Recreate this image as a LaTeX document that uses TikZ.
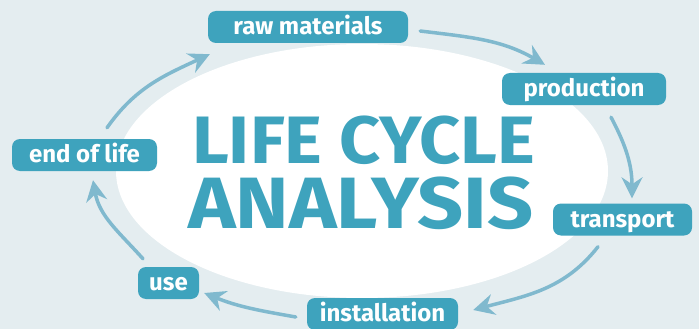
\documentclass[tikz,border=0pt]{standalone}
\usepackage{fontspec}
\setmainfont{Fira Sans}
\usetikzlibrary{arrows.meta}
\definecolor{bgc}{RGB}{228,237,240}
\definecolor{teal}{RGB}{62,163,189}
\definecolor{arrowc}{RGB}{128,185,206}
\tikzset{
  stagebox/.style={fill=teal, text=white, rounded corners=8pt, inner sep=0pt,
    minimum height=32pt, text height=15.4pt, text depth=0pt,
    font=\fontsize{24}{24}\selectfont\bfseries},
  cyclearrow/.style={draw=arrowc, line width=3.5pt, line cap=round,
    -{Stealth[length=21pt,width=21pt,inset=7pt]}},
  titletext/.style={text=teal, inner sep=0pt, anchor=base west}
}
\begin{document}
\begin{tikzpicture}[x=1pt,y=1pt]
\useasboundingbox (0,0) rectangle (699,-329);
\fill[bgc] (0,0) rectangle (699,-329);
\fill[white] (362,-171) ellipse [x radius=246, y radius=127];

\node[titletext] (t1) at (192,-163.3) {\resizebox{343pt}{47.6pt}{\fontsize{50}{50}\selectfont\bfseries LIFE CYCLE}};
\node[titletext] (t2) at (188,-228.3) {\resizebox{345pt}{51.6pt}{\fontsize{50}{50}\selectfont\bfseries ANALYSIS}};

\node[stagebox, minimum width=200pt] (raw) at (308,-27) {raw materials};
\node[stagebox, minimum width=164pt] (prod) at (584,-89) {production};
\node[stagebox, minimum width=139pt] (trans) at (622.5,-219.5) {transport};
\node[stagebox, minimum width=151pt] (inst) at (382.5,-314) {installation};
\node[stagebox, minimum width=61pt] (use) at (168.5,-283) {use};
\node[stagebox, minimum width=145pt] (eol) at (84.5,-155) {end of life};

\draw[cyclearrow] ([xshift=12pt,yshift=-4pt]raw.east) to[out=-7,in=150] ([xshift=-39pt,yshift=8pt]prod.north);
\draw[cyclearrow] ([xshift=27pt,yshift=-12pt]prod.south) to[out=-62,in=90] ([xshift=9.5pt,yshift=5pt]trans.north);
\draw[cyclearrow] ([xshift=-24.5pt,yshift=-11pt]trans.south) to[out=-128,in=15] ([xshift=15pt,yshift=4pt]inst.east);
\draw[cyclearrow] ([xshift=-11pt,yshift=-3pt]inst.west) to[out=170,in=-22] ([xshift=5pt,yshift=-10pt]use.east);
\draw[cyclearrow] ([xshift=-25.5pt,yshift=8pt]use.north) to[out=132,in=-80] ([xshift=8.5pt,yshift=-9pt]eol.south);
\draw[cyclearrow] ([xshift=22.5pt,yshift=11pt]eol.north) to[out=55,in=-155] ([xshift=2pt,yshift=-11pt]raw.south west);
\end{tikzpicture}
\end{document}
